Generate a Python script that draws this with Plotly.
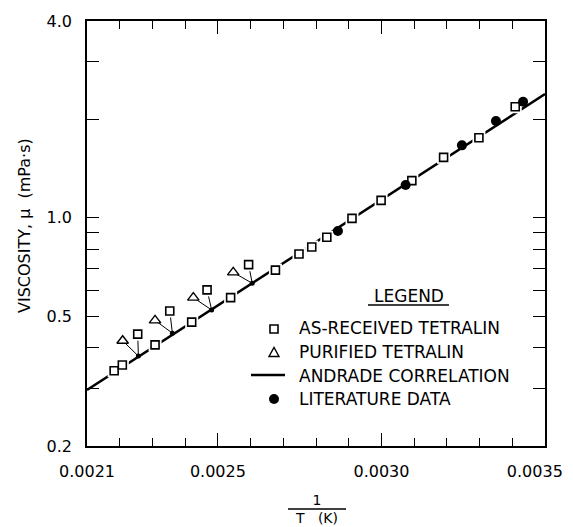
import plotly.graph_objects as go

# ---- data ----
as_received_x = [0.002183, 0.002208, 0.002255, 0.002308, 0.002353, 0.002420, 0.002467,
                 0.002539, 0.002594, 0.002676, 0.002748, 0.002787, 0.002833, 0.002910,
                 0.002999, 0.003093, 0.003190, 0.003298, 0.003409]
as_received_y = [0.340, 0.354, 0.440, 0.408, 0.518, 0.479, 0.601,
                 0.569, 0.718, 0.691, 0.774, 0.813, 0.871, 0.995,
                 1.130, 1.298, 1.530, 1.757, 2.186]
purified_x = [0.002209, 0.002308, 0.002425, 0.002547]
purified_y = [0.420, 0.485, 0.569, 0.680]
literature_x = [0.002867, 0.003074, 0.003246, 0.003350, 0.003433]
literature_y = [0.910, 1.259, 1.665, 1.976, 2.264]
andrade_x = [0.0021, 0.0035]
andrade_y = [0.297, 2.39]
tie_x = [0.002257, 0.002361, 0.002481, 0.002605]
tie_y = [0.377, 0.443, 0.522, 0.630]
tie_square_index = [2, 4, 6, 8]

x_tickvals = [0.0021, 0.0022, 0.0023, 0.0024, 0.0025, 0.0026, 0.0027, 0.0028,
              0.0029, 0.0030, 0.0031, 0.0032, 0.0033, 0.0034, 0.0035]
x_major = [0.0021, 0.0025, 0.0030, 0.0035]
x_major_text = ["0.0021", "0.0025", "0.0030", "0.0035\u00a0\u00a0\u00a0\u00a0"]
y_tickvals = [0.2, 0.3, 0.4, 0.5, 0.6, 0.7, 0.8, 0.9, 1.0, 2.0, 3.0, 4.0]
y_ticktext = ["0.2", "", "", "0.5", "", "", "", "", "1.0", "", "", "4.0"]

legend_labels = ["AS-RECEIVED TETRALIN", "PURIFIED TETRALIN", "ANDRADE CORRELATION", "LITERATURE DATA"]

FONT = "DejaVu Sans"
PAGE_OFF = 8  # default body margin of the html page
W, H = 565, 519
L, R, T, B = 79, 28, 13, 81
pw, ph = W - L - R, H - T - B
X0 = L + PAGE_OFF          # page x of plot left edge
Y1 = H - B + PAGE_OFF      # page y of plot bottom edge


def px(xp):
    return (xp - X0) / pw


def py(yp):
    return (Y1 - yp) / ph


fig = go.Figure()

# Andrade correlation line
fig.add_trace(go.Scatter(x=andrade_x, y=andrade_y, mode="lines",
                         line=dict(color="black", width=2.5), showlegend=False,
                         hoverinfo="skip"))

# leader lines
lx, ly = [], []
for i, k in enumerate(tie_square_index):
    lx += [purified_x[i], tie_x[i], as_received_x[k], None]
    ly += [purified_y[i], tie_y[i], as_received_y[k], None]
fig.add_trace(go.Scatter(x=lx, y=ly, mode="lines", line=dict(color="black", width=1),
                         showlegend=False, hoverinfo="skip"))

# white halos around squares
fig.add_trace(go.Scatter(x=as_received_x, y=as_received_y, mode="markers",
                         marker=dict(symbol="square", size=13, color="white"),
                         showlegend=False, hoverinfo="skip"))

fig.add_trace(go.Scatter(x=as_received_x, y=as_received_y, mode="markers",
                         marker=dict(symbol="square", size=8, color="white",
                                     line=dict(color="black", width=1.6)),
                         showlegend=False))
fig.add_trace(go.Scatter(x=purified_x, y=purified_y, mode="markers",
                         marker=dict(symbol="triangle-up", size=10, color="white",
                                     line=dict(color="black", width=1.4)),
                         showlegend=False))
fig.add_trace(go.Scatter(x=literature_x, y=literature_y, mode="markers",
                         marker=dict(symbol="circle", size=10, color="black"),
                         showlegend=False))
fig.add_trace(go.Scatter(x=tie_x, y=tie_y, mode="markers",
                         marker=dict(symbol="circle", size=5, color="black"),
                         showlegend=False, hoverinfo="skip"))

shapes = []
annotations = []

# Legend
annotations.append(dict(x=px(408.5), y=py(296), xref="paper", yref="paper", text="LEGEND",
                        showarrow=False, xanchor="center", yanchor="middle",
                        font=dict(family=FONT, size=17, color="black")))
shapes.append(dict(type="line", xref="paper", yref="paper", x0=px(368), x1=px(449),
                   y0=py(305), y1=py(305), line=dict(color="black", width=1.5)))
rows = [328, 352, 376, 399]
for lab, yy in zip(legend_labels, rows):
    annotations.append(dict(x=px(297), y=py(yy), xref="paper", yref="paper", text=lab,
                            showarrow=False, xanchor="left", yanchor="middle",
                            font=dict(family=FONT, size=17, color="black")))
sx = px(274)
shapes.append(dict(type="rect", xref="paper", yref="paper", xsizemode="pixel", ysizemode="pixel",
                   xanchor=sx, yanchor=py(329), x0=-4, x1=4, y0=-4, y1=4,
                   line=dict(color="black", width=1.6), fillcolor="white"))
shapes.append(dict(type="path", xref="paper", yref="paper", xsizemode="pixel", ysizemode="pixel",
                   xanchor=sx, yanchor=py(352.5), path="M -5,-4 L 5,-4 L 0,5 Z",
                   line=dict(color="black", width=1.4), fillcolor="white"))
shapes.append(dict(type="line", xref="paper", yref="paper", x0=px(251), x1=px(285),
                   y0=py(375), y1=py(375), line=dict(color="black", width=2.5)))
shapes.append(dict(type="circle", xref="paper", yref="paper", xsizemode="pixel", ysizemode="pixel",
                   xanchor=sx, yanchor=py(399), x0=-5, x1=5, y0=-5, y1=5,
                   line=dict(color="black", width=0), fillcolor="black"))

# Axis titles
annotations.append(dict(x=px(25), y=py(226), xref="paper", yref="paper",
                        text="VISCOSITY, \u03bc  (mPa\u00b7s)", textangle=-90,
                        showarrow=False, xanchor="center", yanchor="middle",
                        font=dict(family=FONT, size=16, color="black")))
annotations.append(dict(x=px(316), y=py(509), xref="paper", yref="paper",
                        text="1<br>T\u00a0\u00a0\u00a0(K)", align="center",
                        showarrow=False, xanchor="center", yanchor="middle",
                        font=dict(family=FONT, size=14, color="black")))
shapes.append(dict(type="line", xref="paper", yref="paper", x0=px(288), x1=px(346),
                   y0=py(509), y1=py(509), line=dict(color="black", width=1.5)))

fig.update_layout(
    width=W, height=H,
    margin=dict(l=L, r=R, t=T, b=B, autoexpand=False),
    paper_bgcolor="white", plot_bgcolor="white",
    showlegend=False,
    shapes=shapes, annotations=annotations,
    font=dict(family=FONT, size=16, color="black"),
)

fig.update_xaxes(
    range=[0.0021, 0.0035], showgrid=False, zeroline=False, automargin=False,
    showline=True, linecolor="black", linewidth=1.5, mirror="ticks",
    ticks="inside", ticklen=13, tickwidth=1.2, tickcolor="black",
    tickmode="array", tickvals=x_major, ticktext=x_major_text,
    ticklabelstandoff=10, ticklabeloverflow="allow",
    tickfont=dict(family=FONT, size=16, color="black"),
    minor=dict(tickmode="array", tickvals=x_tickvals, ticks="inside", ticklen=8,
               tickwidth=1.2, tickcolor="black", showgrid=False),
)
fig.update_yaxes(
    type="log", range=[-0.69897, 0.60206], showgrid=False, zeroline=False, automargin=False,
    showline=True, linecolor="black", linewidth=1.5, mirror="ticks",
    ticks="inside", ticklen=12, tickwidth=1.2, tickcolor="black",
    tickmode="array", tickvals=y_tickvals, ticktext=y_ticktext,
    ticklabelstandoff=10, ticklabeloverflow="allow",
    tickfont=dict(family=FONT, size=16, color="black"),
)

fig.write_html("out.html")
